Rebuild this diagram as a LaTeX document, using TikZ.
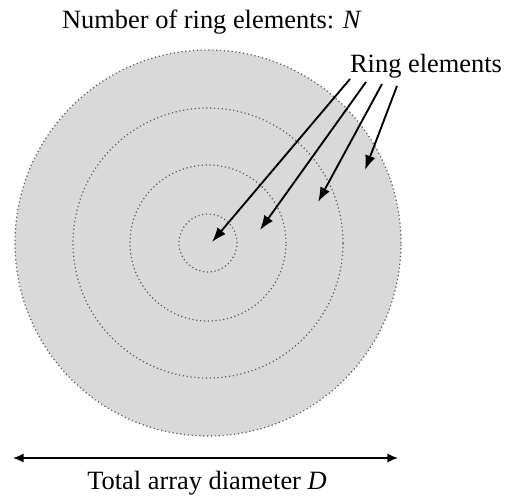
\documentclass[tikz,border=0pt]{standalone}
\usepackage{fontspec}
\setmainfont{Liberation Serif}
\usetikzlibrary{arrows.meta}

\tikzset{every picture/.style={line width=0.75pt}}
\tikzset{
  ring/.style={circle, draw={rgb, 255:red, 90; green, 90; blue, 90}, dotted, line width=0.9pt, inner sep=0pt},
  pointer/.style={-{Latex[length=11pt,width=8pt]}, line width=1.4pt},
  label/.style={inner sep=0.75pt, font=\fontsize{19.8}{23}\selectfont}
}

\begin{document}
\begin{tikzpicture}[x=0.75pt,y=0.75pt,yscale=-1,xscale=1]
\useasboundingbox (0,0) rectangle (514,497);

%Shape: Circle [id:outer]
\node [ring, fill={rgb, 255:red, 217; green, 217; blue, 217}, minimum size=386*0.75pt] (r4) at (208,243) {};
%Shape: Circle
\node [ring, minimum size=270*0.75pt] (r3) at (208,243) {};
%Shape: Circle
\node [ring, minimum size=156*0.75pt] (r2) at (208,243) {};
%Shape: Circle
\node [ring, minimum size=58*0.75pt] (r1) at (208,243) {};

% Text Node
\node [label] (title) at (212,22) {Number of ring elements: \textit{N}};
% Text Node
\node [label] (rings) at (426,66) {Ring elements};
% Text Node
\node [label] (diam) at (207,483) {Total array diameter \textit{D}};

%Straight Lines
\coordinate (t1) at (350,79);
\coordinate (t2) at (366,82);
\coordinate (t3) at (382,84);
\coordinate (t4) at (397,86);
\coordinate (h1) at (212,242);
\coordinate (h2) at (260,230);
\coordinate (h3) at (318,202);
\coordinate (h4) at (365,170);
\draw [pointer] (t1) -- (h1);
\draw [pointer] (t2) -- (h2);
\draw [pointer] (t3) -- (h3);
\draw [pointer] (t4) -- (h4);

%Straight Lines [diameter]
\coordinate (dl) at (13,458);
\coordinate (dr) at (398,458);
\draw [{Latex[length=8pt,width=7pt]}-{Latex[length=8pt,width=7pt]}, line width=1.4pt] (dl) -- (dr);

\end{tikzpicture}
\end{document}
